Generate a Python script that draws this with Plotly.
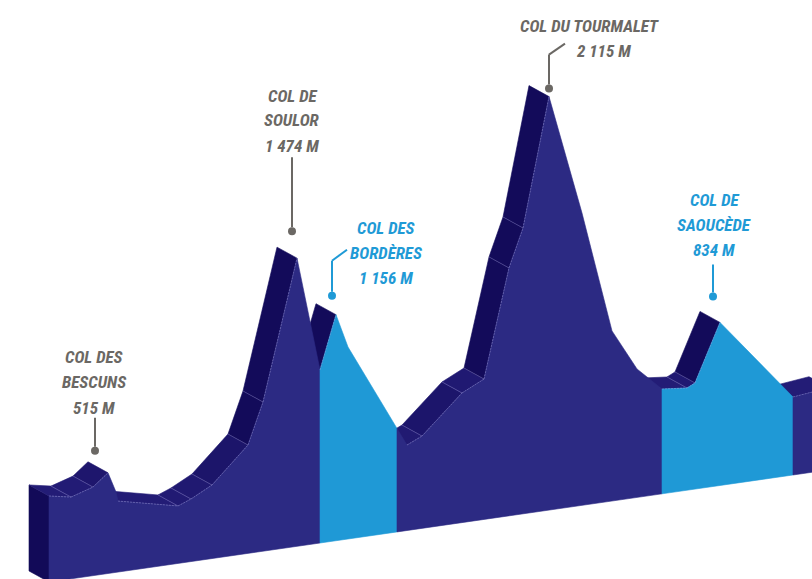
import plotly.graph_objects as go

# ---------------- data ----------------
dist_km = [0, 4.4, 8.8, 11.8, 13.4, 13.8, 25.8, 28.4, 32.6, 39.8, 42.8, 49.6,
           54.2, 57.4, 59.8, 71.6, 74.6, 82.6, 87.0, 92.0, 94.8, 100.0, 106.6,
           112.6, 117.6, 122.6, 127.6, 129.2, 134.2, 148.8, 156.0]
elev_m = [440, 418, 453, 515, 411, 363, 294, 320, 376, 554, 763, 1474,
          885, 1156, 982, 437, 472, 663, 718, 1268, 1462, 2115, 1495,
          870, 657, 536, 523, 543, 834, 399, 420]

climb_start_km = [54.2, 122.6]
climb_end_km = [69.6, 148.8]

col_name_lines = [["COL DES", "BESCUNS"], ["COL DE", "SOULOR"], ["COL DES", "BORDÈRES"],
                  ["COL DU TOURMALET"], ["COL DE", "SAOUCÈDE"]]
col_km = [11.8, 49.6, 57.4, 100.0, 134.2]
col_elev = [515, 1474, 1156, 2115, 834]
col_labels_elev = ["515 M", "1 474 M", "1 156 M", "2 115 M", "834 M"]
col_is_climb = [False, False, True, False, True]

# ---------------- styling / projection ----------------
PAGE = 0
W, H = 812, 579
AX = 5.0            # px per km
AY = 0.1955         # px per metre
X0_PX = 49.0        # screen x of km 0
BASE0_PX = 581.97   # screen y of baseline at km 0
TILT = 0.1438       # baseline rise (px per px)
DEPTH_PX = (-20.0, -11.0)

G = TILT * AX / AY                  # metres of tilt per km
DK = DEPTH_PX[0] / AX               # depth offset in km
DY = -DEPTH_PX[1] / AY              # depth offset in metres

PURPLE = "#2C2A83"
BLUE = "#1F99D6"
TOP_DARK = (19, 11, 90)
TOP_LIGHT = (35, 28, 118)
SIDE = "#120A58"
GREY = "#6B6864"
LBLUE = "#1F9AD6"
FONT = "Roboto Condensed, Liberation Sans Narrow, Arial Narrow, Roboto, sans-serif"


def Y(k, e):
    return e + G * k


def interp(k):
    for i in range(len(dist_km) - 1):
        a, b = dist_km[i], dist_km[i + 1]
        if a <= k <= b:
            t = (k - a) / (b - a)
            return elev_m[i] + t * (elev_m[i + 1] - elev_m[i])
    return elev_m[-1]


def in_climb(k):
    return any(a <= k <= b for a, b in zip(climb_start_km, climb_end_km))


fig = go.Figure()


def poly(xs, ys, color):
    fig.add_trace(go.Scatter(x=xs + [xs[0]], y=ys + [ys[0]], mode="lines",
                             fill="toself", fillcolor=color,
                             line=dict(color=color, width=0.6),
                             hoverinfo="skip", showlegend=False))


# left side face
k0, e0 = dist_km[0], elev_m[0]
poly([k0, k0, k0 + DK, k0 + DK],
     [Y(k0, 0), Y(k0, e0), Y(k0, e0) + DY, Y(k0, 0) + DY], SIDE)

# top (extruded) faces
crease_x, crease_y = [], []
side_x, side_y = [], []
visible = []
for i in range(len(dist_km) - 1):
    ka, kb = dist_km[i], dist_km[i + 1]
    ya, yb = Y(ka, elev_m[i]), Y(kb, elev_m[i + 1])
    s = -((yb - ya) * AY) / ((kb - ka) * AX)   # screen slope (down positive)
    vis = s < (DEPTH_PX[1] / DEPTH_PX[0])
    visible.append(vis)
    if not vis:
        continue
    t = min(max((abs(s) - 0.4) / 1.8, 0), 1)
    c = tuple(int(TOP_LIGHT[j] + t * (TOP_DARK[j] - TOP_LIGHT[j])) for j in range(3))
    col = "rgb(%d,%d,%d)" % c
    poly([ka, kb, kb + DK, ka + DK], [ya, yb, yb + DY, ya + DY], col)
    crease_x += [ka, kb, None]
    crease_y += [ya, yb, None]

for i in range(1, len(dist_km) - 1):
    if visible[i - 1] and visible[i]:
        k, y = dist_km[i], Y(dist_km[i], elev_m[i])
        side_x += [k, k + DK, None]
        side_y += [y, y + DY, None]

# front faces, split by climb sections
bounds = sorted(set([dist_km[0], dist_km[-1]] + climb_start_km + climb_end_km))
for a, b in zip(bounds[:-1], bounds[1:]):
    mid = (a + b) / 2
    color = BLUE if in_climb(mid) else PURPLE
    ks = [a] + [k for k in dist_km if a < k < b] + [b]
    ys = [Y(k, interp(k)) for k in ks]
    poly(ks + [b, a], ys + [Y(b, 0), Y(a, 0)], color)

fig.add_trace(go.Scatter(x=crease_x, y=crease_y, mode="lines",
                         line=dict(color="rgba(175,170,235,0.55)", width=0.7, dash="2px,1px"),
                         hoverinfo="skip", showlegend=False))
fig.add_trace(go.Scatter(x=side_x, y=side_y, mode="lines",
                         line=dict(color="rgba(175,170,235,0.45)", width=0.7),
                         hoverinfo="skip", showlegend=False))

# ---------------- labels ----------------
# per-label pixel offsets from the summit: text line centres, leader polyline, dot
label_style = [
    dict(text=[(-14, 116), (-14, 91), (-14, 65)], lead=[(-13, 55), (-13, 26)], dot=(-13, 22)),
    dict(text=[(-5, 162), (-5, 138), (-5, 112)], lead=[(-5, 101), (-5, 31)], dot=(-5, 27)),
    dict(text=[(50, 87), (50, 62), (50, 37)], lead=[(11, 65), (-4, 54), (-4, 23)], dot=(-4, 19)),
    dict(text=[(40, 71), (54, 46)], lead=[(16, 53), (0, 42), (0, 12)], dot=(0, 8)),
    dict(text=[(-6, 122), (-6, 97), (-6, 72)], lead=[(-7, 58), (-7, 30)], dot=(-7, 26)),
]

for names, k, e, lab, cl, st in zip(col_name_lines, col_km, col_elev, col_labels_elev,
                                    col_is_climb, label_style):
    color = LBLUE if cl else GREY
    xa, ya = k, Y(k, e)
    font = dict(family=FONT, size=17, color=color, style="italic", weight="bold")
    for txt, (dx, dy) in zip(names + [lab], st["text"]):
        fig.add_annotation(x=xa, y=ya, xref="x", yref="y", text=txt,
                           showarrow=False, xshift=dx, yshift=dy, font=font,
                           align="center", xanchor="center", yanchor="middle")
    pts = st["lead"]
    for (x0, y0), (x1, y1) in zip(pts[:-1], pts[1:]):
        fig.add_shape(type="line", xref="x", yref="y", xsizemode="pixel",
                      ysizemode="pixel", xanchor=xa, yanchor=ya,
                      x0=x0, y0=y0, x1=x1, y1=y1,
                      line=dict(color=color, width=2))
    dx, dy = st["dot"]
    r = 4
    fig.add_shape(type="circle", xref="x", yref="y", xsizemode="pixel",
                  ysizemode="pixel", xanchor=xa, yanchor=ya,
                  x0=dx - r, y0=dy - r, x1=dx + r, y1=dy + r,
                  fillcolor=color, line=dict(color=color, width=0))

fig.update_layout(
    width=W, height=H,
    margin=dict(l=0, r=0, t=0, b=0),
    paper_bgcolor="white", plot_bgcolor="white",
    xaxis=dict(range=[(PAGE - X0_PX) / AX, (PAGE + W - X0_PX) / AX],
               visible=False, fixedrange=True),
    yaxis=dict(range=[(BASE0_PX - PAGE - H) / AY, (BASE0_PX - PAGE) / AY],
               visible=False, fixedrange=True),
    showlegend=False,
    hovermode=False,
)

fig.write_html("out.html",
               config={"displayModeBar": False, "staticPlot": True},
               post_script="document.body.style.margin='0';"
                           "document.body.style.overflow='hidden';")
